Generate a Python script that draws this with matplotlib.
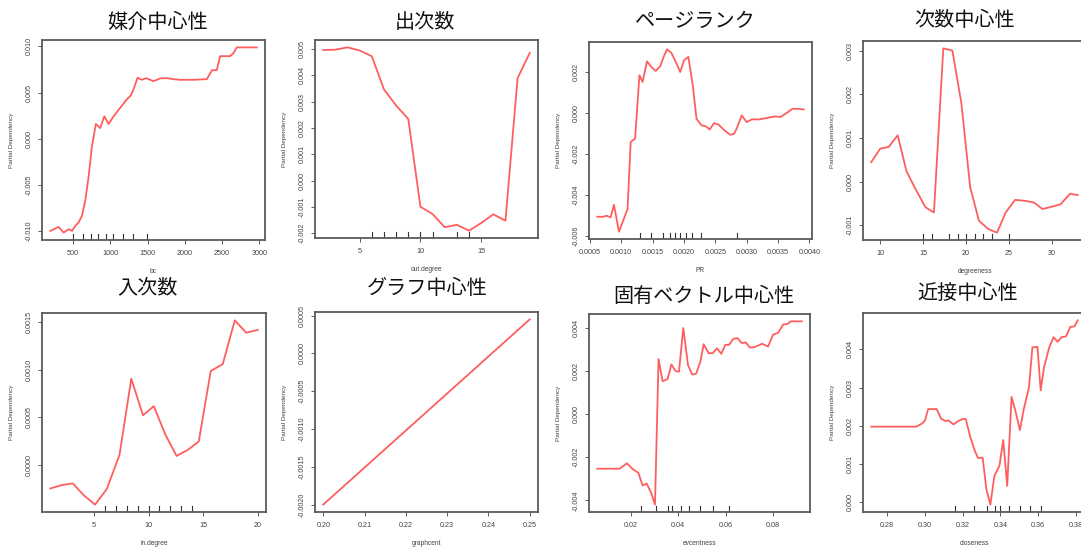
import matplotlib
matplotlib.use("Agg")
import matplotlib.pyplot as plt
from matplotlib.ticker import FormatStrFormatter

plt.rcParams['font.family'] = ['Liberation Sans', 'DejaVu Sans']

# partial dependence curves, one per feature
bc_x = [196, 308, 375, 442, 487, 531, 576, 621, 665, 710, 754, 808, 866, 920, 978, 1045,
        1134, 1223, 1277, 1313, 1366, 1424, 1482, 1580, 1670, 1759, 1848, 1938, 2116,
        2295, 2362, 2429, 2473, 2607, 2652, 2696, 2964]
bc_y = [-0.0100, -0.00956, -0.01018, -0.00982, -0.0100, -0.00945, -0.00909, -0.00835,
        -0.00671, -0.00415, -0.00086, 0.00159, 0.00115, 0.00243, 0.00159, 0.00243,
        0.00335, 0.00426, 0.0047, 0.00536, 0.0066, 0.00638, 0.00656, 0.00623, 0.00653,
        0.00656, 0.00645, 0.00638, 0.00638, 0.00645, 0.0074, 0.00744, 0.00894, 0.00894,
        0.00927, 0.00989, 0.00989]
bc_rug = [495, 630, 740, 840, 945, 1040, 1165, 1300, 1490]

out_x = [2, 3, 4, 5, 6, 7, 8, 9, 10, 11, 12, 13, 14, 15, 16, 17, 18, 19]
out_y = [0.00496, 0.00497, 0.00506, 0.00494, 0.00472, 0.00346, 0.00285, 0.00234,
         -0.00099, -0.00127, -0.00177, -0.00168, -0.0019, -0.00161, -0.00128,
         -0.00152, 0.00389, 0.00485]
out_rug = [6, 7, 8, 9, 10, 11, 13, 14]

pr_x = [0.000617, 0.000713, 0.000766, 0.00083, 0.000883, 0.000963, 0.00103, 0.0011,
        0.00115, 0.00119, 0.00122, 0.00129, 0.00134, 0.00141, 0.00148, 0.00155,
        0.00162, 0.00167, 0.00173, 0.0018, 0.00187, 0.00194, 0.002, 0.00207, 0.00214,
        0.0022, 0.00228, 0.00235, 0.00241, 0.00248, 0.00255, 0.00262, 0.00268,
        0.00274, 0.0028, 0.00285, 0.00292, 0.0030, 0.00308, 0.00319, 0.00332,
        0.00345, 0.00354, 0.00364, 0.00373, 0.00382, 0.00391]
pr_y = [-0.00508, -0.00508, -0.00503, -0.00511, -0.00449, -0.00581, -0.00527, -0.0047,
        -0.00143, -0.00132, -0.00127, 0.00184, 0.00151, 0.00252, 0.00225, 0.00205,
        0.00228, 0.0027, 0.00311, 0.00293, 0.00249, 0.002, 0.00257, 0.00274, 0.00135,
        -0.00029, -0.00061, -0.00066, -0.00081, -0.0005, -0.00057, -0.00078, -0.00094,
        -0.00107, -0.00102, -0.0007, -0.00012, -0.00045, -0.00032, -0.00032,
        -0.00025, -0.00017, -0.0002, 0.0, 0.0002, 0.0002, 0.00017]
pr_rug = [0.0013, 0.00147, 0.00167, 0.00177, 0.00185, 0.00194, 0.00203, 0.00212,
          0.00227, 0.00285]

deg_x = [8.95, 10.0, 10.98, 12.03, 13.05, 14.1, 15.27, 16.25, 17.34, 18.4, 19.45, 20.47,
         21.5, 22.6, 23.6, 24.6, 25.7, 26.8, 27.9, 28.9, 29.9, 31.0, 32.1, 33.0]
deg_y = [0.000446, 0.000754, 0.000792, 0.00106, 0.000238, -0.00017, -0.00059, -0.00071,
         0.00305, 0.0030, 0.00179, -0.00013, -0.0009, -0.00109, -0.00117, -0.00071,
         -0.00042, -0.00044, -0.00048, -0.00063, -0.00058, -0.00052, -0.00028, -0.00031]
deg_rug = [15, 16, 18, 19, 20, 21, 22, 23, 25]

in_x = [1.0, 2.04, 3.07, 4.06, 5.1, 6.17, 7.34, 8.42, 9.49, 10.48, 11.55, 12.57, 13.6,
        14.6, 15.7, 16.8, 17.9, 18.95, 20.0]
in_y = [-0.000247, -0.000212, -0.000194, -0.000318, -0.000417, -0.000254, 0.000106,
        0.000907, 0.000522, 0.000618, 0.000317, 0.000095, 0.000159, 0.000247,
        0.000988, 0.00106, 0.00152, 0.00139, 0.00142]
in_rug = [6, 7, 8, 9, 10, 11, 12, 13, 14]

gc_x = [0.20, 0.25]
gc_y = [-0.0020, 0.00045]
gc_rug = []

ev_x = [0.00597, 0.00986, 0.0133, 0.0154, 0.0185, 0.021, 0.0233, 0.0251, 0.0268,
        0.0286, 0.0303, 0.0318, 0.0335, 0.0356, 0.0372, 0.039, 0.0404, 0.0422, 0.0442,
        0.046, 0.0476, 0.0494, 0.0508, 0.0529, 0.0546, 0.0564, 0.0582, 0.0599, 0.0615,
        0.0633, 0.065, 0.0668, 0.0685, 0.0703, 0.0721, 0.0738, 0.0754, 0.0779, 0.08,
        0.0821, 0.0842, 0.086, 0.0876, 0.0921]
ev_y = [-0.00253, -0.00253, -0.00253, -0.00253, -0.00228, -0.00256, -0.00272, -0.00331,
        -0.00322, -0.00363, -0.0042, 0.00256, 0.00153, 0.00163, 0.00231, 0.0020,
        0.00197, 0.0040, 0.00228, 0.00184, 0.00188, 0.00244, 0.00325, 0.00283, 0.00283,
        0.00306, 0.0028, 0.00322, 0.00322, 0.0035, 0.00353, 0.0033, 0.00333, 0.00309,
        0.00311, 0.00319, 0.00327, 0.00314, 0.00369, 0.00377, 0.00416, 0.00419,
        0.00431, 0.00431]
ev_rug = [0.0244, 0.0307, 0.0356, 0.0376, 0.0411, 0.0446, 0.0494, 0.0546, 0.0613]

cl_x = [0.2717, 0.2832, 0.2956, 0.2988, 0.3001, 0.3018, 0.3063, 0.3086, 0.3107, 0.3125,
        0.3152, 0.3178, 0.32, 0.3217, 0.324, 0.3264, 0.3281, 0.3306, 0.3326, 0.3347,
        0.3368, 0.3395, 0.3415, 0.3436, 0.3459, 0.348, 0.3503, 0.3525, 0.3551, 0.3569,
        0.3596, 0.3613, 0.3631, 0.3658, 0.3681, 0.3702, 0.3724, 0.3747, 0.377, 0.3791,
        0.3809]
cl_y = [0.00198, 0.00198, 0.00198, 0.00207, 0.00214, 0.00244, 0.00244, 0.00219, 0.00213,
        0.00214, 0.00204, 0.00213, 0.00218, 0.00218, 0.00172, 0.00136, 0.00116, 0.00117,
        0.00034, -0.00006, 0.00069, 0.00096, 0.00163, 0.00043, 0.00276, 0.00238,
        0.00189, 0.00247, 0.0030, 0.00405, 0.00407, 0.00293, 0.00354, 0.00405, 0.00432,
        0.0042, 0.00432, 0.00434, 0.00459, 0.0046, 0.00476]
cl_rug = [0.316, 0.3262, 0.333, 0.3374, 0.34, 0.3448, 0.3502, 0.3555, 0.3613]

titles = ['媒介中心性', '出次数', 'ページランク', '次数中心性',
          '入次数', 'グラフ中心性', '固有ベクトル中心性', '近接中心性']
xlabels = ['bc', 'out.degree', 'PR', 'degreeness',
           'in.degree', 'graphcent', 'evcentness', 'closeness']

W, H = 1081, 549
fig = plt.figure(figsize=(W / 100, H / 100), dpi=100)

# (left, top, right, bottom) of each plot box in pixels
boxes = [(42, 40, 265, 240), (315, 40, 538, 238), (589, 42, 812, 239), (863, 41, 1086, 240),
         (42, 313, 266, 512), (315, 312, 538, 512), (589, 314, 810, 512), (863, 313, 1086, 512)]
title_pos = [(158, 22), (425, 22), (695, 21), (965, 20),
             (147, 288), (427, 289), (704, 297), (968, 293)]

panels = [
    (bc_x, bc_y, bc_rug, range(500, 3001, 500), [-0.010, -0.005, 0.0, 0.005, 0.010], '%d', '%.3f'),
    (out_x, out_y, out_rug, [5, 10, 15], [-0.002, -0.001, 0, 0.001, 0.002, 0.003, 0.004, 0.005], '%d', '%.3f'),
    (pr_x, pr_y, pr_rug, [0.0005, 0.0010, 0.0015, 0.0020, 0.0025, 0.0030, 0.0035, 0.0040],
     [-0.006, -0.004, -0.002, 0.0, 0.002], '%.4f', '%.3f'),
    (deg_x, deg_y, deg_rug, [10, 15, 20, 25, 30], [-0.001, 0.0, 0.001, 0.002, 0.003], '%d', '%.3f'),
    (in_x, in_y, in_rug, [5, 10, 15, 20], [0.0, 0.0005, 0.0010, 0.0015], '%d', '%.4f'),
    (gc_x, gc_y, gc_rug, [0.20, 0.21, 0.22, 0.23, 0.24, 0.25],
     [-0.0020, -0.0015, -0.0010, -0.0005, 0.0, 0.0005], '%.2f', '%.4f'),
    (ev_x, ev_y, ev_rug, [0.02, 0.04, 0.06, 0.08], [-0.004, -0.002, 0.0, 0.002, 0.004], '%.2f', '%.3f'),
    (cl_x, cl_y, cl_rug, [0.28, 0.30, 0.32, 0.34, 0.36, 0.38], [0.0, 0.001, 0.002, 0.003, 0.004], '%.2f', '%.3f'),
]

frame = '#5a5a5a'
txt = '#444444'

for i, (x, y, rug, xt, yt, xf, yf) in enumerate(panels):
    l, t, r, b = boxes[i]
    ax = fig.add_axes([l / W, 1 - b / H, (r - l) / W, (b - t) / H])
    ax.plot(x, y, color='#ff5e5e', lw=1.3)
    ax.margins(0.04)
    for xv in rug:
        ax.axvline(xv, ymin=0, ymax=0.032, color='#333333', lw=0.8)
    ax.set_xticks(list(xt))
    ax.set_yticks(yt)
    ax.xaxis.set_major_formatter(FormatStrFormatter(xf))
    ax.yaxis.set_major_formatter(FormatStrFormatter(yf))
    ax.tick_params(length=3, width=0.7, color=frame, labelsize=5.2,
                   labelcolor=txt, pad=4)
    for lab in ax.get_yticklabels():
        lab.set_rotation(90)
        lab.set_va('center')
    for s in ax.spines.values():
        s.set_color(frame)
        s.set_linewidth(1.3)
    ax.set_xlabel(xlabels[i], fontsize=4.8, color=txt, labelpad=8)
    ax.set_ylabel('Partial Dependency', fontsize=4.6, color=txt, labelpad=8)
    tx, ty = title_pos[i]
    fig.text(tx / W, 1 - ty / H, titles[i], ha='center', va='center',
             fontsize=14.5, family=['Noto Sans CJK JP', 'DejaVu Sans'], color='#111111')

fig.savefig('out.png', dpi=100)
